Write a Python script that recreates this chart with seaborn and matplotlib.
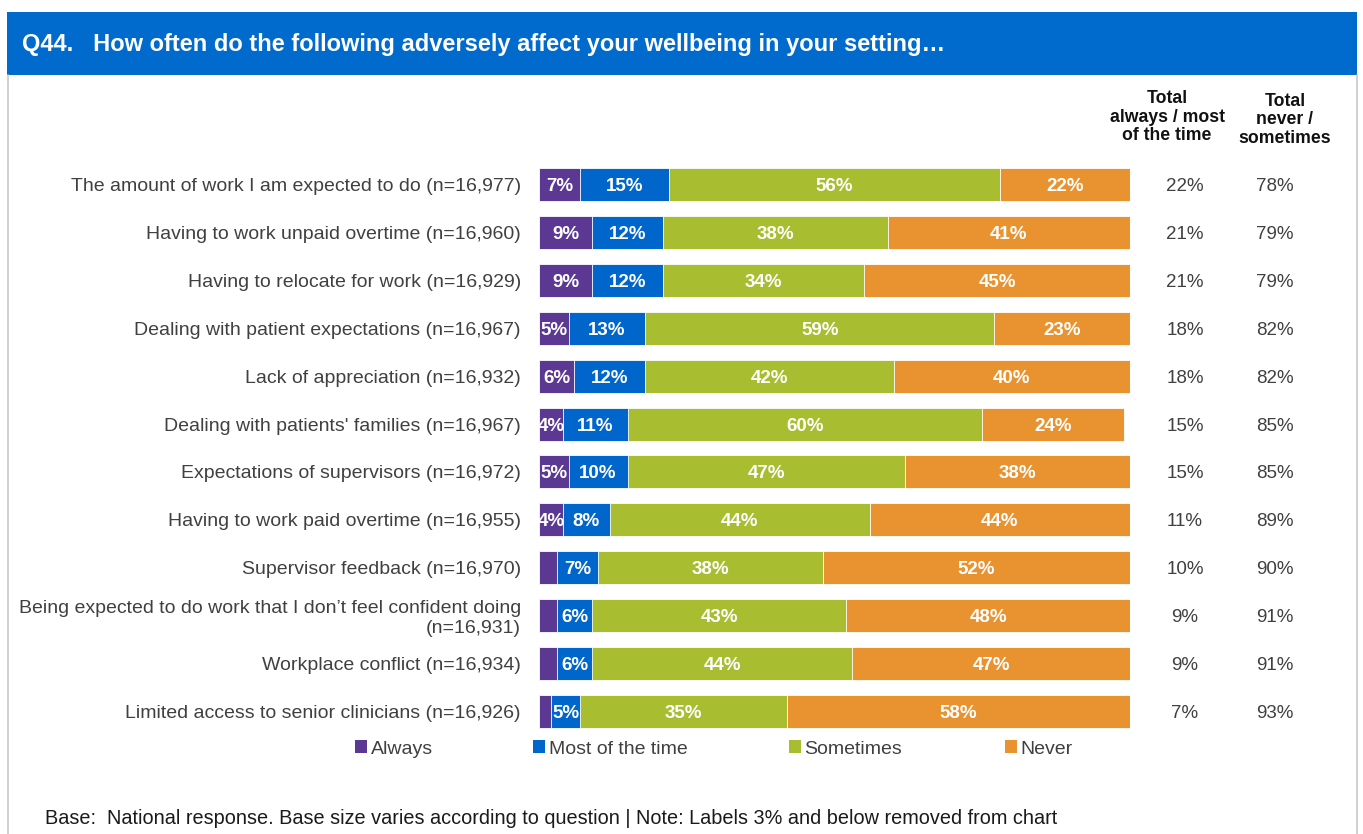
import pandas as pd
import numpy as np
import matplotlib.pyplot as plt
import seaborn as sns
from matplotlib.patches import Rectangle, Patch
from matplotlib.lines import Line2D

# survey items and response shares (%)
items = [
    "The amount of work I am expected to do (n=16,977)",
    "Having to work unpaid overtime (n=16,960)",
    "Having to relocate for work (n=16,929)",
    "Dealing with patient expectations (n=16,967)",
    "Lack of appreciation (n=16,932)",
    "Dealing with patients' families (n=16,967)",
    "Expectations of supervisors (n=16,972)",
    "Having to work paid overtime (n=16,955)",
    "Supervisor feedback (n=16,970)",
    "Being expected to do work that I don\u2019t feel confident doing\n(n=16,931)",
    "Workplace conflict (n=16,934)",
    "Limited access to senior clinicians (n=16,926)",
]
always = [7, 9, 9, 5, 6, 4, 5, 4, 3, 3, 3, 2]
most_of_time = [15, 12, 12, 13, 12, 11, 10, 8, 7, 6, 6, 5]
sometimes = [56, 38, 34, 59, 42, 60, 47, 44, 38, 43, 44, 35]
never = [22, 41, 45, 23, 40, 24, 38, 44, 52, 48, 47, 58]
total_always_most = [22, 21, 21, 18, 18, 15, 15, 11, 10, 9, 9, 7]
total_never_sometimes = [78, 79, 79, 82, 82, 85, 85, 89, 90, 91, 91, 93]

series = ["Always", "Most of the time", "Sometimes", "Never"]
colors = ["#5B3892", "#0066CC", "#A8BD2F", "#E99330"]

df = pd.DataFrame({"item": items, "Always": always, "Most of the time": most_of_time,
                   "Sometimes": sometimes, "Never": never})
cum = df[series].cumsum(axis=1)
for s in series:
    df["cum_" + s] = cum[s]

sns.set_theme(style="white")
plt.rcParams["font.family"] = ["Liberation Sans", "DejaVu Sans"]

W, H = 1363, 834
fig = plt.figure(figsize=(W / 100, H / 100), dpi=100)
ax = fig.add_axes([539 / W, 1 - 735 / H, 591 / W, (735 - 161) / H])

# stacked bars: draw cumulative totals from the largest down
for s, c in reversed(list(zip(series, colors))):
    sns.barplot(data=df, x="cum_" + s, y="item", order=items, color=c, orient="h",
                saturation=1, width=0.69, edgecolor="white", linewidth=0.6, ax=ax)

# segment labels (3% and below removed)
for i in range(len(items)):
    left = 0
    for s in series:
        v = df.loc[i, s]
        if v > 3:
            ax.text(left + v / 2, i, f"{v}%", ha="center", va="center_baseline",
                    color="white", fontsize=13.5, fontweight="bold")
        left += v
    ax.text((1185 - 539) / 591 * 100, i, f"{total_always_most[i]}%", ha="center",
            va="center_baseline", fontsize=13.5, color="#404040", clip_on=False)
    ax.text((1275 - 539) / 591 * 100, i, f"{total_never_sometimes[i]}%", ha="center",
            va="center_baseline", fontsize=13.5, color="#404040", clip_on=False)

ax.set_xlim(0, 100)
ax.set_ylim(len(items) - 0.5, -0.5)
ax.set_xlabel("")
ax.set_ylabel("")
ax.set_xticks([])
for sp in ax.spines.values():
    sp.set_visible(False)
ax.tick_params(axis="y", length=0, pad=13, labelsize=14, labelcolor="#404040")

# right-hand column headers
fig.text(1167 / W, 1 - 117 / H, "Total\nalways / most\nof the time", ha="center", va="center",
         fontsize=12.7, fontweight="bold", color="#111111", linespacing=1.12)
fig.text(1285 / W, 1 - 120 / H, "Total\nnever /\nsometimes", ha="center", va="center",
         fontsize=12.7, fontweight="bold", color="#111111", linespacing=1.12)

# header band and frame
fig.patches.append(Rectangle((7 / W, 1 - 75 / H), 1350 / W, 63 / H, transform=fig.transFigure,
                             facecolor="#006ACD", edgecolor="none", zorder=0))
fig.text(22 / W, 1 - 45 / H,
         "Q44.   How often do the following adversely affect your wellbeing in your setting\u2026",
         ha="left", va="center", color="white", fontsize=17, fontweight="bold")
for xpx in (8, 1357):
    fig.add_artist(Line2D([xpx / W, xpx / W], [0, 1 - 75 / H], transform=fig.transFigure,
                          color="#C8C8C8", linewidth=1.2))

# legend entries at their own positions
legend_x = [355, 533, 789, 1005]
for s, c, xpx in zip(series, colors, legend_x):
    fig.legend(handles=[Patch(facecolor=c, edgecolor="none")], labels=[s],
               loc="center left", bbox_to_anchor=(xpx / W, 1 - 749 / H), frameon=False,
               handlelength=0.6, handleheight=0.6, handletextpad=0.2, borderpad=0,
               borderaxespad=0, fontsize=14, labelcolor="#404040")

fig.text(45 / W, 1 - 819 / H,
         "Base:  National response. Base size varies according to question | Note: Labels 3% and below removed from chart",
         ha="left", va="center", fontsize=14.3, color="#1a1a1a")

fig.savefig("out.png", dpi=100, facecolor="white")
